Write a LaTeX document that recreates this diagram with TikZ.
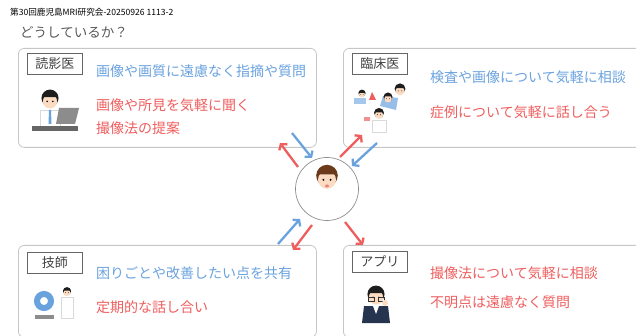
\documentclass[tikz,border=0pt]{standalone}
\usepackage{fontspec}
\setmainfont{Noto Sans CJK JP}
\usetikzlibrary{arrows.meta}
\definecolor{msgblue}{HTML}{6AA2DE}
\definecolor{msgred}{HTML}{EE5E5E}
\definecolor{framegray}{HTML}{C6C6C6}
\definecolor{skin}{HTML}{FBDCC2}
\definecolor{hairblk}{HTML}{1E1E1E}
\definecolor{hairbrn}{HTML}{6A3A1A}
\definecolor{suit}{HTML}{26344F}
% simple head: centre, scale, hair colour
\newcommand{\kao}[3]{%
  \begin{scope}[shift={(#1)},scale=#2]
    \fill[#3] (0,-2) circle (9pt);
    \fill[skin] (0,1.5) circle (7.5pt);
    \fill[#3] (-8,-3) -- (8,-3) -- (7,-6) -- (0,-9) -- (-7,-6) -- cycle;
    \fill[black] (-3,1.5) circle (0.9pt) (3,1.5) circle (0.9pt);
  \end{scope}}
\begin{document}
\begin{tikzpicture}[x=1pt,y=-1pt,
  box/.style={draw=framegray,line width=0.8pt,rounded corners=6pt,anchor=north west,inner sep=0pt},
  tag/.style={draw=black!60,line width=0.7pt,anchor=north west,minimum width=55pt,minimum height=21pt,
    inner sep=0pt,font=\fontsize{13}{13}\selectfont,text=black!75},
  say/.style={anchor=west,inner sep=0pt,font=\fontsize{14}{14}\selectfont},
  blu/.style={say,text=msgblue}, rd/.style={say,text=msgred},
  toB/.style={draw=msgblue,line width=2.3pt,-{Straight Barb[length=4pt,width=10pt]}},
  toR/.style={draw=msgred,line width=2.3pt,-{Straight Barb[length=4pt,width=10pt]}}]
\useasboundingbox (0,0) rectangle (636,336);

\node[anchor=west,inner sep=0pt,font=\fontsize{8.6}{9}\selectfont,text=black] (head) at (10,12) {第30回鹿児島MRI研究会-20250926 1113-2};
\node[anchor=west,inner sep=0pt,font=\fontsize{13.5}{14}\selectfont,text=black!65] (title) at (20,32) {どうしているか？};

% the four partners
\node[box,minimum width=298pt,minimum height=99pt] (yomi) at (18,48) {};
\node[box,minimum width=320pt,minimum height=99pt] (rinsho) at (343,48) {};
\node[box,minimum width=298pt,minimum height=92pt] (gishi) at (18,245) {};
\node[box,minimum width=320pt,minimum height=92pt] (appli) at (343,245) {};

\node[tag] (t1) at (27,53) {読影医};
\node[tag] (t2) at (352,53) {臨床医};
\node[tag] (t3) at (27,252) {技師};
\node[tag] (t4) at (352,251) {アプリ};

\node[blu] (y1) at (96,71) {画像や画質に遠慮なく指摘や質問};
\node[rd] (y2) at (96,105) {画像や所見を気軽に聞く};
\node[rd] (y3) at (96,128) {撮像法の提案};
\node[blu] (r1) at (430,77) {検査や画像について気軽に相談};
\node[rd] (r2) at (430,112) {症例について気軽に話し合う};
\node[blu] (g1) at (96,273) {困りごとや改善したい点を共有};
\node[rd] (g2) at (96,307) {定期的な話し合い};
\node[rd] (a1) at (430,273) {撮像法について気軽に相談};
\node[rd] (a2) at (430,302) {不明点は遠慮なく質問};

% me in the middle
\node[draw=black!45,line width=0.7pt,circle,minimum size=63pt,inner sep=0pt] (me) at (327,189) {};
\kao{327,178}{1.2}{hairbrn}
\fill[msgred!80] (327,186) ellipse (2pt and 1.5pt);

% reader at a laptop
\fill[white,draw=black!15] (40,110) rectangle (60,128);
\fill[msgblue] (49,110) -- (51,110) -- (51.5,124) -- (48.5,124) -- cycle;
\kao{50,100}{0.95}{hairblk}
\fill[black!45] (59,108) -- (79,108) -- (75,124) -- (56,124) -- cycle;
\fill[black!60] (32,126) rectangle (78,131);

% clinicians and patient
\kao{400,90}{0.6}{hairblk}
\fill[msgblue!70] (383,96) -- (398,98) -- (396,110) -- (380,106) -- cycle;
\kao{388,98}{0.5}{hairblk}
\fill[msgblue!60] (354,98) rectangle (366,104);
\kao{362,94}{0.4}{hairblk}
\fill[msgred] (372,92) -- (376,100) -- (369,100) -- cycle;
\fill[white,draw=black!15] (372,120) rectangle (386,132);
\kao{379,114}{0.55}{hairblk}
\fill[msgred!70] (364,117) rectangle (370,121);

% scanner and technologist
\draw[msgblue,line width=6pt] (44,301) circle (7pt);
\fill[white] (44,301) circle (3pt);
\fill[black!45] (35,315) rectangle (54,319);
\fill[white,draw=black!15] (61,297) rectangle (73,318);
\kao{67,292}{0.45}{hairblk}

% app user with glasses
\fill[suit] (362,323) -- (364,306) -- (388,306) -- (390,323) -- cycle;
\fill[white] (373,306) -- (379,306) -- (376,314) -- cycle;
\kao{376,296}{0.95}{hairblk}
\draw[black!80,line width=0.8pt] (368,297) rectangle (374,301) (378,297) rectangle (384,301);
\fill[skin] (385,303) circle (3pt);

% who talks to whom
\coordinate (a) at (298,167); \coordinate (b) at (280,143);
\coordinate (c) at (292,133); \coordinate (d) at (312,158);
\coordinate (e) at (340,157); \coordinate (f) at (362,135);
\coordinate (g) at (377,143); \coordinate (h) at (352,166);
\coordinate (i) at (278,244); \coordinate (j) at (300,219);
\coordinate (k) at (312,225); \coordinate (l) at (293,250);
\coordinate (m) at (345,222); \coordinate (n) at (363,245);
\path (a) edge[toR] (b) (c) edge[toB] (d);
\path (e) edge[toR] (f) (g) edge[toB] (h);
\path (i) edge[toB] (j) (k) edge[toR] (l);
\path (m) edge[toR] (n);
\end{tikzpicture}
\end{document}
